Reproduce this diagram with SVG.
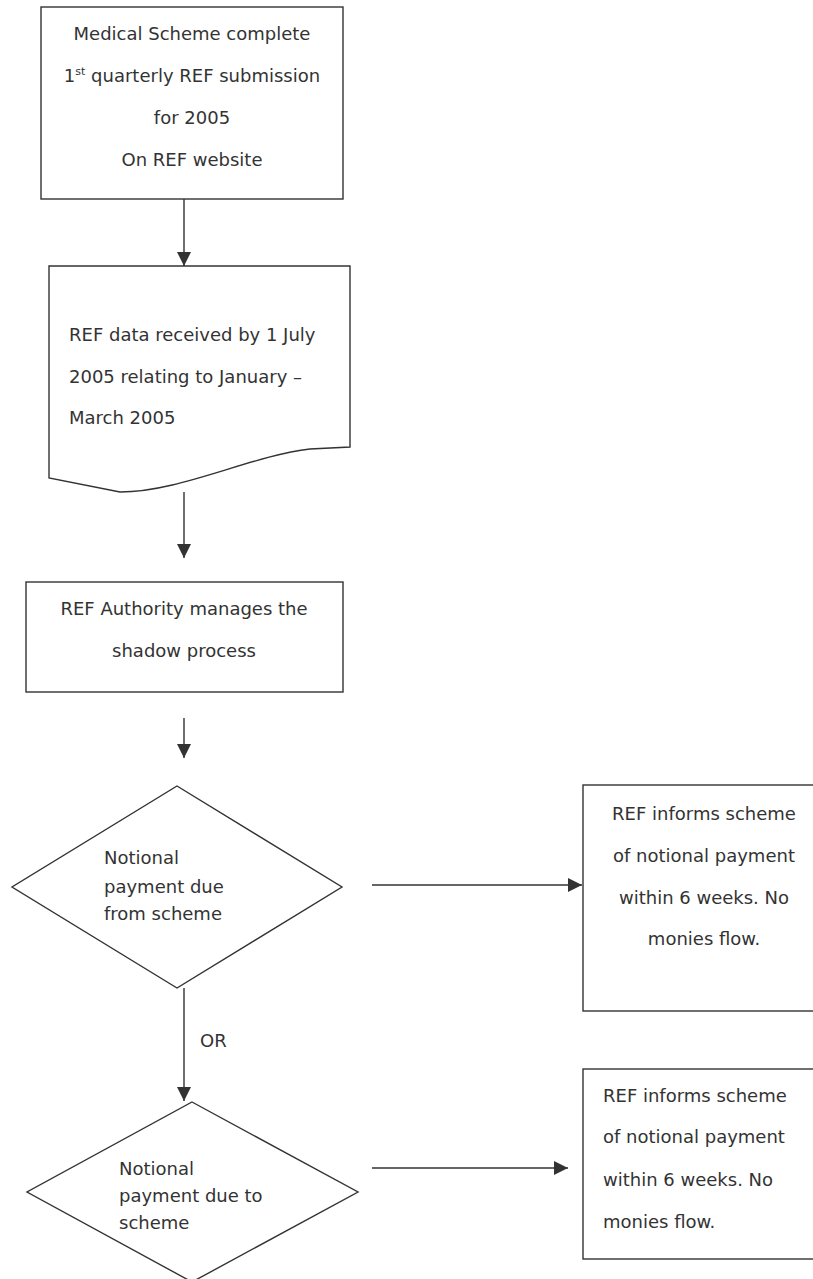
<svg xmlns="http://www.w3.org/2000/svg" width="813" height="1279" viewBox="0 0 813 1279">
<style>
.s{fill:#fff;stroke:#333;stroke-width:1.4}
.t{font-family:"DejaVu Sans",sans-serif;font-size:18px;fill:#333}
.c{text-anchor:middle}
.l{stroke:#333;stroke-width:1.4;fill:none;marker-end:url(#ah)}
</style>
<defs>
<marker id="ah" markerUnits="userSpaceOnUse" markerWidth="14" markerHeight="16" viewBox="0 0 14 16" refX="14" refY="8" orient="auto">
<path d="M0,1 L14,8 L0,15 Z" fill="#333"/>
</marker>
</defs>
<g id="connectors">
<line class="l" x1="184" y1="199" x2="184" y2="266"/>
<line class="l" x1="184" y1="492" x2="184" y2="558"/>
<line class="l" x1="184" y1="718" x2="184" y2="758"/>
<line class="l" x1="184" y1="988" x2="184" y2="1101"/>
<line class="l" x1="372" y1="885" x2="582" y2="885"/>
<line class="l" x1="372" y1="1168" x2="568" y2="1168"/>
<text class="t" x="200" y="1047">OR</text>
</g>
<g id="n1">
<rect class="s" x="41" y="7" width="302" height="192"/>
<text class="t c" x="192" y="40">Medical Scheme complete</text>
<text class="t c" x="192" y="82">1<tspan font-size="11" dy="-7">st</tspan><tspan dy="7"> quarterly REF submission</tspan></text>
<text class="t c" x="192" y="124">for 2005</text>
<text class="t c" x="192" y="166">On REF website</text>
</g>
<g id="n2">
<path class="s" d="M49,266 H350 V447 L310,449 C250,456 180,492 120,492 L49,478 Z"/>
<text class="t" x="69" y="341">REF data received by 1 July</text>
<text class="t" x="69" y="383">2005 relating to January –</text>
<text class="t" x="69" y="424">March 2005</text>
</g>
<g id="n3">
<rect class="s" x="26" y="582" width="317" height="110"/>
<text class="t c" x="184" y="615">REF Authority manages the</text>
<text class="t c" x="184" y="657">shadow process</text>
</g>
<g id="d1">
<polygon class="s" points="177,786 342,887 177,988 12,887"/>
<text class="t" x="104" y="864">Notional</text>
<text class="t" x="104" y="893">payment due</text>
<text class="t" x="104" y="920">from scheme</text>
</g>
<g id="n4">
<rect class="s" x="583" y="785" width="240" height="226"/>
<text class="t c" x="704" y="820">REF informs scheme</text>
<text class="t c" x="704" y="862">of notional payment</text>
<text class="t c" x="704" y="904">within 6 weeks. No</text>
<text class="t c" x="704" y="945">monies flow.</text>
</g>
<g id="d2">
<polygon class="s" points="192,1102 358,1192 192,1282 27,1192"/>
<text class="t" x="119" y="1175">Notional</text>
<text class="t" x="119" y="1202">payment due to</text>
<text class="t" x="119" y="1229">scheme</text>
</g>
<g id="n5">
<rect class="s" x="583" y="1069" width="240" height="190"/>
<text class="t" x="603" y="1102">REF informs scheme</text>
<text class="t" x="603" y="1143">of notional payment</text>
<text class="t" x="603" y="1186">within 6 weeks. No</text>
<text class="t" x="603" y="1228">monies flow.</text>
</g>
</svg>
